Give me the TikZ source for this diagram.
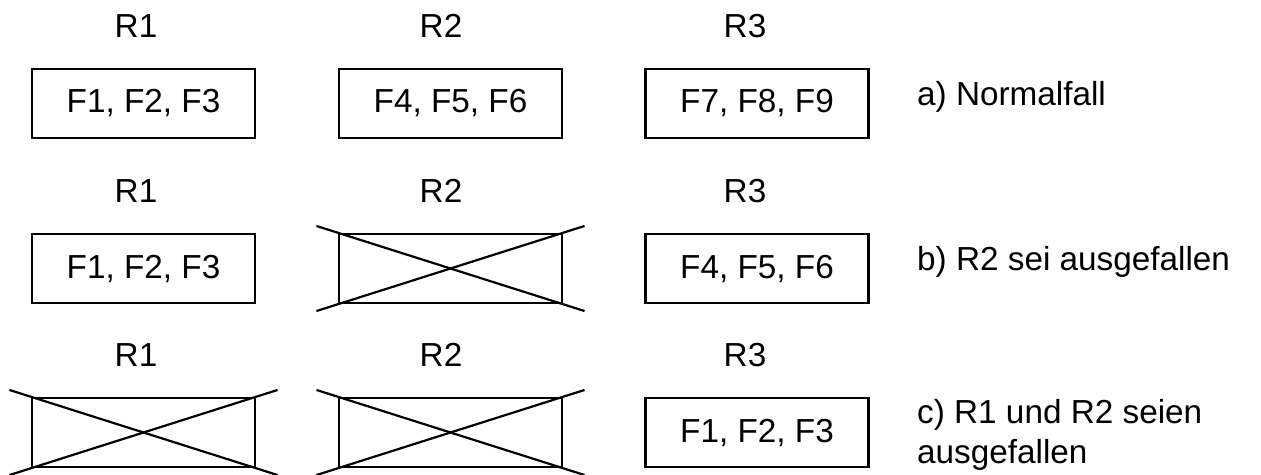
\documentclass[tikz,border=0pt]{standalone}
\usepackage{fontspec}
\setmainfont{Liberation Sans}
\usetikzlibrary{calc}
\tikzset{
  unit/.style={draw, line width=2.6pt, minimum width=223pt, minimum height=69pt, inner sep=0pt},
  cross/.style={line width=2.2pt},
  rlabel/.style={anchor=base, inner sep=0pt},
  caption/.style={anchor=base west, inner sep=0pt, align=left},
}
\begin{document}
\begin{tikzpicture}[x=1pt, y=-1pt, font=\fontsize{33.3}{40}\selectfont]
\useasboundingbox (0,0) rectangle (1261,474);

% row a: normal operation
\node[rlabel] (ra1) at (136,37) {R1};
\node[rlabel] (ra2) at (441,37) {R2};
\node[rlabel] (ra3) at (745,37) {R3};
\node[unit] (a1) at (143.5,103.5) {F1, F2, F3};
\node[unit] (a2) at (450.5,103.5) {F4, F5, F6};
\node[unit] (a3) at (757,103.5) {F7, F8, F9};
\node[caption] (ca) at (917,105) {a) Normalfall};

% row b: R2 failed
\node[rlabel] (rb1) at (136,202) {R1};
\node[rlabel] (rb2) at (441,202) {R2};
\node[rlabel] (rb3) at (745,202) {R3};
\node[unit] (b1) at (143.5,268.5) {F1, F2, F3};
\node[unit] (b2) at (450.5,268.5) {};
\node[unit] (b3) at (757,268.5) {F4, F5, F6};
\node[caption] (cb) at (917,270) {b) R2 sei ausgefallen};

% row c: R1 and R2 failed
\node[rlabel] (rc1) at (136,366) {R1};
\node[rlabel] (rc2) at (441,366) {R2};
\node[rlabel] (rc3) at (745,366) {R3};
\node[unit] (c1) at (143.5,432.5) {};
\node[unit] (c2) at (450.5,432.5) {};
\node[unit] (c3) at (757,432.5) {F1, F2, F3};
% base anchor of a two-line node sits on its last line
\node[caption] (cc) at (917,463) {c) R1 und R2 seien\\ausgefallen};

% crossed-out units
\foreach \n in {b2,c1,c2}{
  \draw[cross] ($(\n.north west)!-0.094!(\n.south east)$) -- ($(\n.south east)!-0.094!(\n.north west)$);
  \draw[cross] ($(\n.south west)!-0.094!(\n.north east)$) -- ($(\n.north east)!-0.094!(\n.south west)$);
}
\end{tikzpicture}
\end{document}
